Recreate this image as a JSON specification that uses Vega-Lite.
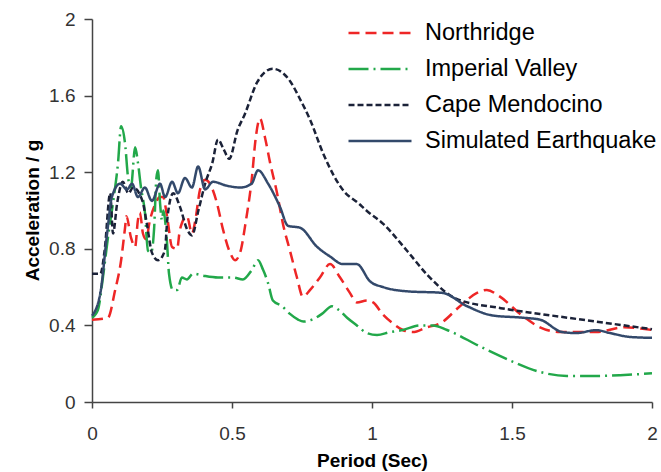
{
  "$schema": "https://vega.github.io/schema/vega-lite/v6.json",
  "width": 560,
  "height": 383,
  "autosize": "none",
  "padding": {"left": 92, "top": 19, "right": 9, "bottom": 70},
  "background": "white",
  "config": {
    "view": {"stroke": null},
    "font": "Liberation Sans",
    "legend": {"rowPadding": 0, "clipHeight": 36, "symbolType": "stroke", "symbolSize": 3969, "symbolStrokeWidth": 2.5, "labelFontSize": 23.5, "labelOffset": 12, "labelLimit": 400, "labelColor": "#000"}
  },
  "datasets": {
    "d": [
      {"s": "Northridge", "x": 0, "y": 0.43},
      {"s": "Northridge", "x": 0.057, "y": 0.44},
      {"s": "Northridge", "x": 0.082, "y": 0.58},
      {"s": "Northridge", "x": 0.104, "y": 0.74},
      {"s": "Northridge", "x": 0.118, "y": 0.91},
      {"s": "Northridge", "x": 0.123, "y": 0.97},
      {"s": "Northridge", "x": 0.139, "y": 0.86},
      {"s": "Northridge", "x": 0.154, "y": 0.81},
      {"s": "Northridge", "x": 0.164, "y": 0.95},
      {"s": "Northridge", "x": 0.171, "y": 0.99},
      {"s": "Northridge", "x": 0.182, "y": 0.88},
      {"s": "Northridge", "x": 0.193, "y": 0.85},
      {"s": "Northridge", "x": 0.207, "y": 0.95},
      {"s": "Northridge", "x": 0.225, "y": 1.03},
      {"s": "Northridge", "x": 0.243, "y": 1.07},
      {"s": "Northridge", "x": 0.254, "y": 1.07},
      {"s": "Northridge", "x": 0.268, "y": 0.97},
      {"s": "Northridge", "x": 0.286, "y": 0.81},
      {"s": "Northridge", "x": 0.304, "y": 0.8},
      {"s": "Northridge", "x": 0.314, "y": 0.9},
      {"s": "Northridge", "x": 0.339, "y": 0.97},
      {"s": "Northridge", "x": 0.357, "y": 0.88},
      {"s": "Northridge", "x": 0.368, "y": 0.94},
      {"s": "Northridge", "x": 0.386, "y": 1.11},
      {"s": "Northridge", "x": 0.404, "y": 1.16},
      {"s": "Northridge", "x": 0.421, "y": 1.14},
      {"s": "Northridge", "x": 0.446, "y": 1.04},
      {"s": "Northridge", "x": 0.468, "y": 0.9},
      {"s": "Northridge", "x": 0.493, "y": 0.78},
      {"s": "Northridge", "x": 0.511, "y": 0.74},
      {"s": "Northridge", "x": 0.529, "y": 0.78},
      {"s": "Northridge", "x": 0.55, "y": 0.95},
      {"s": "Northridge", "x": 0.571, "y": 1.17},
      {"s": "Northridge", "x": 0.584, "y": 1.37},
      {"s": "Northridge", "x": 0.6, "y": 1.48},
      {"s": "Northridge", "x": 0.618, "y": 1.38},
      {"s": "Northridge", "x": 0.636, "y": 1.25},
      {"s": "Northridge", "x": 0.661, "y": 1.09},
      {"s": "Northridge", "x": 0.682, "y": 0.93},
      {"s": "Northridge", "x": 0.707, "y": 0.79},
      {"s": "Northridge", "x": 0.732, "y": 0.65},
      {"s": "Northridge", "x": 0.753, "y": 0.55},
      {"s": "Northridge", "x": 0.779, "y": 0.585},
      {"s": "Northridge", "x": 0.814, "y": 0.65},
      {"s": "Northridge", "x": 0.85, "y": 0.72},
      {"s": "Northridge", "x": 0.886, "y": 0.65},
      {"s": "Northridge", "x": 0.921, "y": 0.57},
      {"s": "Northridge", "x": 0.946, "y": 0.52},
      {"s": "Northridge", "x": 0.982, "y": 0.53},
      {"s": "Northridge", "x": 1.004, "y": 0.52},
      {"s": "Northridge", "x": 1.04, "y": 0.455},
      {"s": "Northridge", "x": 1.075, "y": 0.41},
      {"s": "Northridge", "x": 1.11, "y": 0.376},
      {"s": "Northridge", "x": 1.146, "y": 0.365},
      {"s": "Northridge", "x": 1.196, "y": 0.39},
      {"s": "Northridge", "x": 1.243, "y": 0.41},
      {"s": "Northridge", "x": 1.314, "y": 0.5},
      {"s": "Northridge", "x": 1.375, "y": 0.57},
      {"s": "Northridge", "x": 1.41, "y": 0.585},
      {"s": "Northridge", "x": 1.457, "y": 0.55},
      {"s": "Northridge", "x": 1.529, "y": 0.46},
      {"s": "Northridge", "x": 1.6, "y": 0.39},
      {"s": "Northridge", "x": 1.671, "y": 0.365},
      {"s": "Northridge", "x": 1.8, "y": 0.365},
      {"s": "Northridge", "x": 1.9, "y": 0.39},
      {"s": "Northridge", "x": 2.0, "y": 0.376},

      {"s": "Imperial Valley", "x": 0, "y": 0.44},
      {"s": "Imperial Valley", "x": 0.021, "y": 0.48},
      {"s": "Imperial Valley", "x": 0.039, "y": 0.65},
      {"s": "Imperial Valley", "x": 0.057, "y": 0.86},
      {"s": "Imperial Valley", "x": 0.075, "y": 1.04},
      {"s": "Imperial Valley", "x": 0.093, "y": 1.25},
      {"s": "Imperial Valley", "x": 0.104, "y": 1.44},
      {"s": "Imperial Valley", "x": 0.118, "y": 1.35},
      {"s": "Imperial Valley", "x": 0.129, "y": 1.17},
      {"s": "Imperial Valley", "x": 0.139, "y": 1.12},
      {"s": "Imperial Valley", "x": 0.154, "y": 1.33},
      {"s": "Imperial Valley", "x": 0.164, "y": 1.25},
      {"s": "Imperial Valley", "x": 0.175, "y": 1.12},
      {"s": "Imperial Valley", "x": 0.189, "y": 0.99},
      {"s": "Imperial Valley", "x": 0.2, "y": 0.79},
      {"s": "Imperial Valley", "x": 0.211, "y": 0.78},
      {"s": "Imperial Valley", "x": 0.222, "y": 0.91},
      {"s": "Imperial Valley", "x": 0.23, "y": 1.17},
      {"s": "Imperial Valley", "x": 0.236, "y": 1.21},
      {"s": "Imperial Valley", "x": 0.243, "y": 1.04},
      {"s": "Imperial Valley", "x": 0.25, "y": 0.95},
      {"s": "Imperial Valley", "x": 0.255, "y": 1.0},
      {"s": "Imperial Valley", "x": 0.261, "y": 0.95},
      {"s": "Imperial Valley", "x": 0.268, "y": 0.83},
      {"s": "Imperial Valley", "x": 0.275, "y": 0.67},
      {"s": "Imperial Valley", "x": 0.289, "y": 0.585},
      {"s": "Imperial Valley", "x": 0.304, "y": 0.585},
      {"s": "Imperial Valley", "x": 0.321, "y": 0.65},
      {"s": "Imperial Valley", "x": 0.339, "y": 0.64},
      {"s": "Imperial Valley", "x": 0.361, "y": 0.67},
      {"s": "Imperial Valley", "x": 0.396, "y": 0.66},
      {"s": "Imperial Valley", "x": 0.45, "y": 0.65},
      {"s": "Imperial Valley", "x": 0.504, "y": 0.65},
      {"s": "Imperial Valley", "x": 0.539, "y": 0.64},
      {"s": "Imperial Valley", "x": 0.571, "y": 0.69},
      {"s": "Imperial Valley", "x": 0.593, "y": 0.74},
      {"s": "Imperial Valley", "x": 0.611, "y": 0.69},
      {"s": "Imperial Valley", "x": 0.629, "y": 0.62},
      {"s": "Imperial Valley", "x": 0.646, "y": 0.53},
      {"s": "Imperial Valley", "x": 0.679, "y": 0.5},
      {"s": "Imperial Valley", "x": 0.707, "y": 0.46},
      {"s": "Imperial Valley", "x": 0.736, "y": 0.43},
      {"s": "Imperial Valley", "x": 0.755, "y": 0.42},
      {"s": "Imperial Valley", "x": 0.786, "y": 0.43},
      {"s": "Imperial Valley", "x": 0.821, "y": 0.46},
      {"s": "Imperial Valley", "x": 0.857, "y": 0.5},
      {"s": "Imperial Valley", "x": 0.882, "y": 0.48},
      {"s": "Imperial Valley", "x": 0.911, "y": 0.44},
      {"s": "Imperial Valley", "x": 0.946, "y": 0.4},
      {"s": "Imperial Valley", "x": 0.982, "y": 0.36},
      {"s": "Imperial Valley", "x": 1.018, "y": 0.35},
      {"s": "Imperial Valley", "x": 1.064, "y": 0.365},
      {"s": "Imperial Valley", "x": 1.11, "y": 0.376},
      {"s": "Imperial Valley", "x": 1.171, "y": 0.4},
      {"s": "Imperial Valley", "x": 1.218, "y": 0.4},
      {"s": "Imperial Valley", "x": 1.268, "y": 0.376},
      {"s": "Imperial Valley", "x": 1.386, "y": 0.29},
      {"s": "Imperial Valley", "x": 1.504, "y": 0.21},
      {"s": "Imperial Valley", "x": 1.6, "y": 0.157},
      {"s": "Imperial Valley", "x": 1.696, "y": 0.136},
      {"s": "Imperial Valley", "x": 1.789, "y": 0.136},
      {"s": "Imperial Valley", "x": 1.886, "y": 0.14},
      {"s": "Imperial Valley", "x": 2.0, "y": 0.15},

      {"s": "Cape Mendocino", "x": 0, "y": 0.67},
      {"s": "Cape Mendocino", "x": 0.03, "y": 0.67},
      {"s": "Cape Mendocino", "x": 0.045, "y": 0.79},
      {"s": "Cape Mendocino", "x": 0.065, "y": 1.09},
      {"s": "Cape Mendocino", "x": 0.075, "y": 0.88},
      {"s": "Cape Mendocino", "x": 0.09, "y": 1.04},
      {"s": "Cape Mendocino", "x": 0.11, "y": 1.15},
      {"s": "Cape Mendocino", "x": 0.13, "y": 1.09},
      {"s": "Cape Mendocino", "x": 0.147, "y": 1.12},
      {"s": "Cape Mendocino", "x": 0.18, "y": 1.05},
      {"s": "Cape Mendocino", "x": 0.196, "y": 0.93},
      {"s": "Cape Mendocino", "x": 0.214, "y": 0.78},
      {"s": "Cape Mendocino", "x": 0.236, "y": 0.74},
      {"s": "Cape Mendocino", "x": 0.26, "y": 0.79},
      {"s": "Cape Mendocino", "x": 0.27, "y": 0.97},
      {"s": "Cape Mendocino", "x": 0.29, "y": 1.09},
      {"s": "Cape Mendocino", "x": 0.314, "y": 1.02},
      {"s": "Cape Mendocino", "x": 0.34, "y": 0.9},
      {"s": "Cape Mendocino", "x": 0.357, "y": 0.87},
      {"s": "Cape Mendocino", "x": 0.38, "y": 1.0},
      {"s": "Cape Mendocino", "x": 0.404, "y": 1.14},
      {"s": "Cape Mendocino", "x": 0.43, "y": 1.25},
      {"s": "Cape Mendocino", "x": 0.45, "y": 1.37},
      {"s": "Cape Mendocino", "x": 0.47, "y": 1.32},
      {"s": "Cape Mendocino", "x": 0.49, "y": 1.27},
      {"s": "Cape Mendocino", "x": 0.52, "y": 1.42},
      {"s": "Cape Mendocino", "x": 0.545, "y": 1.5},
      {"s": "Cape Mendocino", "x": 0.59, "y": 1.67},
      {"s": "Cape Mendocino", "x": 0.645, "y": 1.74},
      {"s": "Cape Mendocino", "x": 0.68, "y": 1.72},
      {"s": "Cape Mendocino", "x": 0.71, "y": 1.67},
      {"s": "Cape Mendocino", "x": 0.74, "y": 1.59},
      {"s": "Cape Mendocino", "x": 0.78, "y": 1.47},
      {"s": "Cape Mendocino", "x": 0.825, "y": 1.3},
      {"s": "Cape Mendocino", "x": 0.9, "y": 1.1},
      {"s": "Cape Mendocino", "x": 0.95, "y": 1.04},
      {"s": "Cape Mendocino", "x": 0.98, "y": 1.0},
      {"s": "Cape Mendocino", "x": 1.04, "y": 0.93},
      {"s": "Cape Mendocino", "x": 1.125, "y": 0.79},
      {"s": "Cape Mendocino", "x": 1.2, "y": 0.66},
      {"s": "Cape Mendocino", "x": 1.3, "y": 0.54},
      {"s": "Cape Mendocino", "x": 1.46, "y": 0.49},
      {"s": "Cape Mendocino", "x": 1.6, "y": 0.46},
      {"s": "Cape Mendocino", "x": 1.8, "y": 0.42},
      {"s": "Cape Mendocino", "x": 2.0, "y": 0.38},

      {"s": "Simulated Earthquake", "x": 0, "y": 0.45},
      {"s": "Simulated Earthquake", "x": 0.03, "y": 0.57},
      {"s": "Simulated Earthquake", "x": 0.054, "y": 0.88},
      {"s": "Simulated Earthquake", "x": 0.071, "y": 1.07},
      {"s": "Simulated Earthquake", "x": 0.1, "y": 1.14},
      {"s": "Simulated Earthquake", "x": 0.125, "y": 1.11},
      {"s": "Simulated Earthquake", "x": 0.143, "y": 1.14},
      {"s": "Simulated Earthquake", "x": 0.164, "y": 1.07},
      {"s": "Simulated Earthquake", "x": 0.189, "y": 1.12},
      {"s": "Simulated Earthquake", "x": 0.214, "y": 1.05},
      {"s": "Simulated Earthquake", "x": 0.243, "y": 1.14},
      {"s": "Simulated Earthquake", "x": 0.261, "y": 1.07},
      {"s": "Simulated Earthquake", "x": 0.286, "y": 1.15},
      {"s": "Simulated Earthquake", "x": 0.307, "y": 1.09},
      {"s": "Simulated Earthquake", "x": 0.332, "y": 1.17},
      {"s": "Simulated Earthquake", "x": 0.357, "y": 1.12},
      {"s": "Simulated Earthquake", "x": 0.379, "y": 1.23},
      {"s": "Simulated Earthquake", "x": 0.404, "y": 1.11},
      {"s": "Simulated Earthquake", "x": 0.432, "y": 1.15},
      {"s": "Simulated Earthquake", "x": 0.48, "y": 1.13},
      {"s": "Simulated Earthquake", "x": 0.53, "y": 1.12},
      {"s": "Simulated Earthquake", "x": 0.57, "y": 1.14},
      {"s": "Simulated Earthquake", "x": 0.593, "y": 1.21},
      {"s": "Simulated Earthquake", "x": 0.629, "y": 1.14},
      {"s": "Simulated Earthquake", "x": 0.671, "y": 1.02},
      {"s": "Simulated Earthquake", "x": 0.7, "y": 0.92},
      {"s": "Simulated Earthquake", "x": 0.743, "y": 0.91},
      {"s": "Simulated Earthquake", "x": 0.804, "y": 0.81},
      {"s": "Simulated Earthquake", "x": 0.85, "y": 0.76},
      {"s": "Simulated Earthquake", "x": 0.896, "y": 0.72},
      {"s": "Simulated Earthquake", "x": 0.946, "y": 0.72},
      {"s": "Simulated Earthquake", "x": 0.993, "y": 0.63},
      {"s": "Simulated Earthquake", "x": 1.04, "y": 0.6},
      {"s": "Simulated Earthquake", "x": 1.125, "y": 0.578},
      {"s": "Simulated Earthquake", "x": 1.25, "y": 0.57},
      {"s": "Simulated Earthquake", "x": 1.34, "y": 0.5},
      {"s": "Simulated Earthquake", "x": 1.43, "y": 0.452},
      {"s": "Simulated Earthquake", "x": 1.54, "y": 0.44},
      {"s": "Simulated Earthquake", "x": 1.6, "y": 0.43},
      {"s": "Simulated Earthquake", "x": 1.68, "y": 0.365},
      {"s": "Simulated Earthquake", "x": 1.73, "y": 0.36},
      {"s": "Simulated Earthquake", "x": 1.8, "y": 0.375},
      {"s": "Simulated Earthquake", "x": 1.85, "y": 0.36},
      {"s": "Simulated Earthquake", "x": 1.92, "y": 0.34},
      {"s": "Simulated Earthquake", "x": 2.0, "y": 0.335}
    ]
  },
  "data": {"name": "d"},
  "mark": {"type": "line", "interpolate": "monotone", "strokeWidth": 2.5},
  "encoding": {
    "x": {
      "field": "x", "type": "quantitative",
      "scale": {"domain": [0, 2], "nice": false},
      "axis": {
        "values": [0, 0.5, 1, 1.5, 2], "format": "~g", "grid": false,
        "title": "Period (Sec)", "titleFontSize": 19, "titleFontWeight": "bold",
        "titleColor": "#000", "titleY": 58, "titleBaseline": "middle",
        "labelFontSize": 19, "labelColor": "#333", "labelPadding": 16, "labelFlush": false,
        "tickSize": 6, "domainColor": "#444", "tickColor": "#444", "domainWidth": 1.5, "tickWidth": 1.5
      }
    },
    "y": {
      "field": "y", "type": "quantitative",
      "scale": {"domain": [0, 2], "nice": false},
      "axis": {
        "values": [0, 0.4, 0.8, 1.2, 1.6, 2], "format": "~g", "grid": false,
        "title": "Acceleration / g", "titleFontSize": 19, "titleFontWeight": "bold",
        "titleColor": "#000", "titleX": -50, "titleY": 191, "titleBaseline": "bottom",
        "labelFontSize": 19, "labelColor": "#333", "labelPadding": 9, "labelFlush": false,
        "tickSize": 8, "domainColor": "#444", "tickColor": "#444", "domainWidth": 1.5, "tickWidth": 1.5
      }
    },
    "color": {
      "field": "s", "type": "nominal",
      "scale": {
        "domain": ["Northridge", "Imperial Valley", "Cape Mendocino", "Simulated Earthquake"],
        "range": ["#EE2626", "#22A84A", "#1B2238", "#33496B"]
      },
      "legend": {
        "title": null, "orient": "none", "legendX": 255, "legendY": -4
      }
    },
    "strokeDash": {
      "field": "s", "type": "nominal",
      "scale": {
        "domain": ["Northridge", "Imperial Valley", "Cape Mendocino", "Simulated Earthquake"],
        "range": [[11, 6], [20, 5, 2, 5], [6, 3], [1, 0]]
      },
      "legend": {
        "title": null, "orient": "none", "legendX": 255, "legendY": -4
      }
    }
  }
}
